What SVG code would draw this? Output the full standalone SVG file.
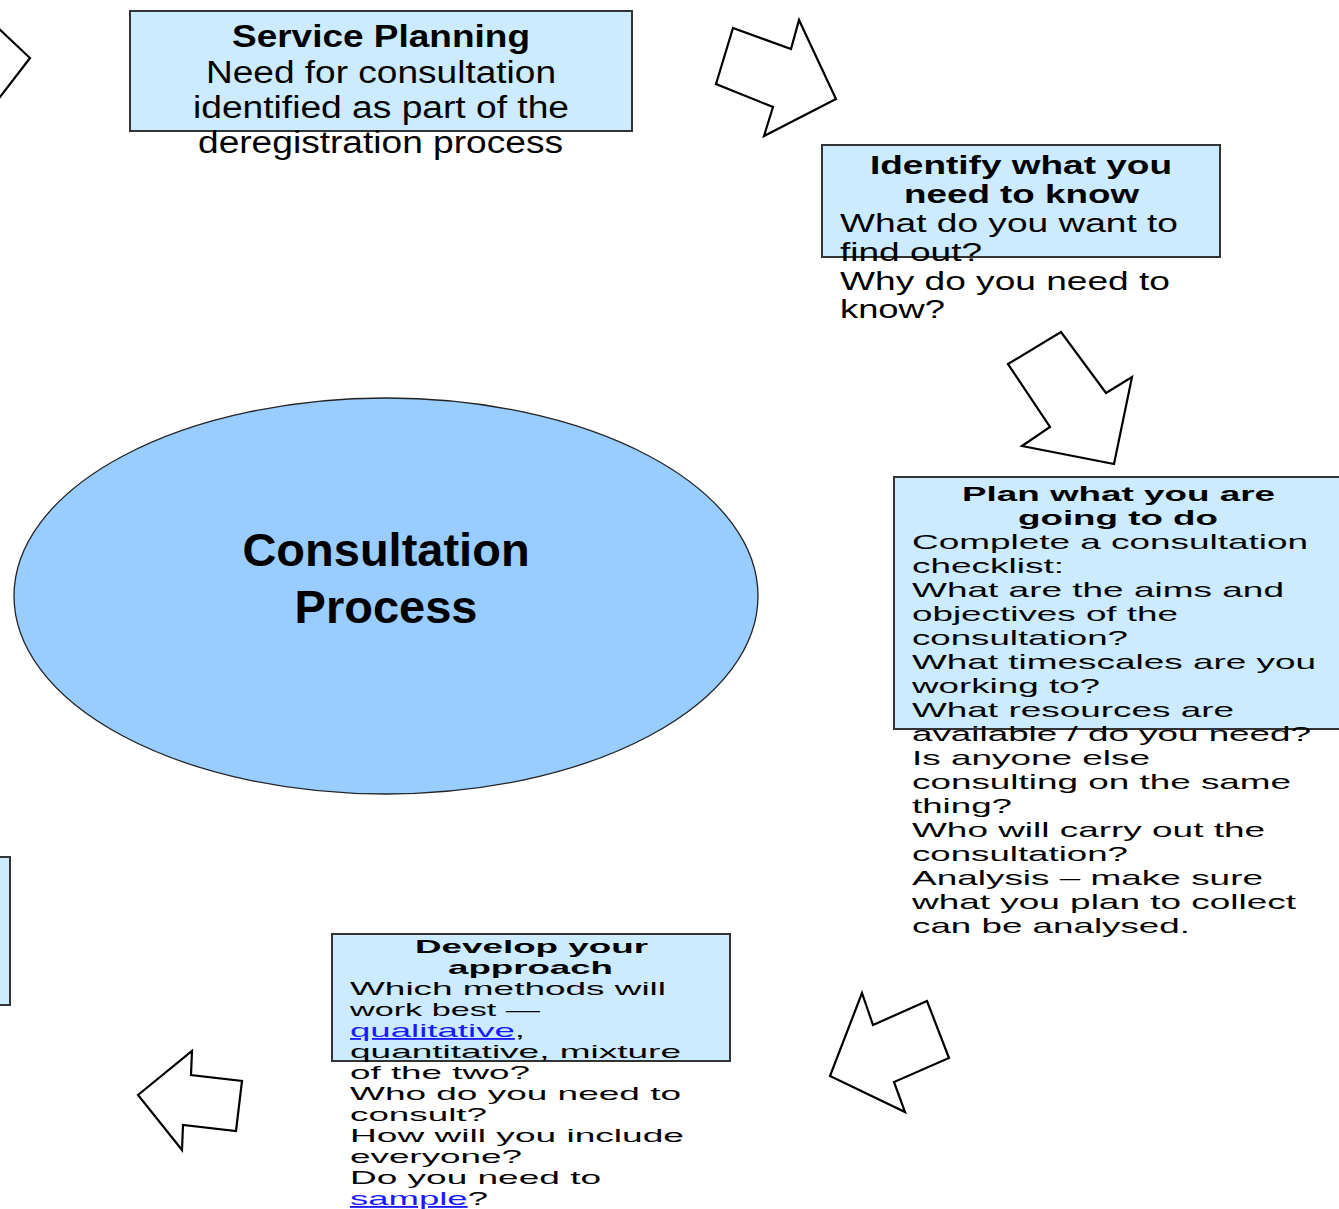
<svg xmlns="http://www.w3.org/2000/svg" width="1339" height="1209" viewBox="0 0 1339 1209">
<style>
  text { font-family: "Liberation Sans", Arial, sans-serif; fill: #000; }
  .box { fill: #CCEBFF; stroke: #333; stroke-width: 2; }
  .arrow { fill: #fff; stroke: #000; stroke-width: 2.2; stroke-linejoin: miter; }
  .b { font-weight: bold; }
  .sp { font-size: 31px; }
  .id { font-size: 26px; }
  .pl { font-size: 21px; }
  .dv { font-size: 18.5px; }
  .link { fill: #1a1aff; text-decoration: underline; }
</style>
<rect width="1339" height="1209" fill="#fff"/>

<g id="connectors">
  <polyline class="arrow" points="-20,11 30,58 -20,123"/>
  <polygon class="arrow" points="733,28 791,49 799,20 836,99 764,136 773,107 716,84"/>
  <polygon class="arrow" points="1008,364 1061,332 1106,393 1132,377 1114,464 1022,446 1050,427"/>
  <polygon class="arrow" points="862,993 873,1025 927,1001 949,1058 894,1082 905,1112 830,1076"/>
  <polygon class="arrow" points="138,1095 192,1051 191,1075 242,1081 236,1131 183,1125 182,1150"/>
</g>

<g id="left-partial-box">
  <rect class="box" x="-10" y="857" width="20" height="148"/>
</g>

<g id="service-planning">
  <rect class="box" x="130" y="11" width="502" height="120"/>
  <text class="sp b" x="232" y="47" textLength="298" lengthAdjust="spacingAndGlyphs">Service Planning</text>
  <text class="sp" x="206" y="83" textLength="350" lengthAdjust="spacingAndGlyphs">Need for consultation</text>
  <text class="sp" x="193" y="118" textLength="376" lengthAdjust="spacingAndGlyphs">identified as part of the</text>
  <text class="sp" x="198" y="153" textLength="365" lengthAdjust="spacingAndGlyphs">deregistration process</text>
</g>

<g id="identify">
  <rect class="box" x="822" y="145" width="398" height="112"/>
  <text class="id b" x="870" y="174" textLength="302" lengthAdjust="spacingAndGlyphs">Identify what you</text>
  <text class="id b" x="904" y="203" textLength="235" lengthAdjust="spacingAndGlyphs">need to know</text>
  <text class="id" x="840" y="232" textLength="338" lengthAdjust="spacingAndGlyphs">What do you want to</text>
  <text class="id" x="840" y="261" textLength="142" lengthAdjust="spacingAndGlyphs">find out?</text>
  <text class="id" x="840" y="290" textLength="330" lengthAdjust="spacingAndGlyphs">Why do you need to</text>
  <text class="id" x="840" y="318" textLength="105" lengthAdjust="spacingAndGlyphs">know?</text>
</g>

<g id="consultation-process">
  <ellipse cx="386" cy="596" rx="372" ry="198" fill="#99CCFF" stroke="#222" stroke-width="1.3"/>
  <text class="b" x="386" y="566" font-size="47" text-anchor="middle">Consultation</text>
  <text class="b" x="386" y="623" font-size="47" text-anchor="middle">Process</text>
</g>

<g id="plan">
  <rect class="box" x="894" y="477" width="460" height="252"/>
  <text class="pl b" x="962" y="501" textLength="313" lengthAdjust="spacingAndGlyphs">Plan what you are</text>
  <text class="pl b" x="1018" y="525" textLength="200" lengthAdjust="spacingAndGlyphs">going to do</text>
  <text class="pl" x="912" y="549" textLength="396" lengthAdjust="spacingAndGlyphs">Complete a consultation</text>
  <text class="pl" x="912" y="573" textLength="152" lengthAdjust="spacingAndGlyphs">checklist:</text>
  <text class="pl" x="912" y="597" textLength="372" lengthAdjust="spacingAndGlyphs">What are the aims and</text>
  <text class="pl" x="912" y="621" textLength="266" lengthAdjust="spacingAndGlyphs">objectives of the</text>
  <text class="pl" x="912" y="645" textLength="216" lengthAdjust="spacingAndGlyphs">consultation?</text>
  <text class="pl" x="912" y="669" textLength="404" lengthAdjust="spacingAndGlyphs">What timescales are you</text>
  <text class="pl" x="912" y="693" textLength="188" lengthAdjust="spacingAndGlyphs">working to?</text>
  <text class="pl" x="912" y="717" textLength="322" lengthAdjust="spacingAndGlyphs">What resources are</text>
  <text class="pl" x="912" y="741" textLength="399" lengthAdjust="spacingAndGlyphs">available / do you need?</text>
  <text class="pl" x="912" y="765" textLength="238" lengthAdjust="spacingAndGlyphs">Is anyone else</text>
  <text class="pl" x="912" y="789" textLength="379" lengthAdjust="spacingAndGlyphs">consulting on the same</text>
  <text class="pl" x="912" y="813" textLength="100" lengthAdjust="spacingAndGlyphs">thing?</text>
  <text class="pl" x="912" y="837" textLength="353" lengthAdjust="spacingAndGlyphs">Who will carry out the</text>
  <text class="pl" x="912" y="861" textLength="216" lengthAdjust="spacingAndGlyphs">consultation?</text>
  <text class="pl" x="912" y="885" textLength="351" lengthAdjust="spacingAndGlyphs">Analysis – make sure</text>
  <text class="pl" x="912" y="909" textLength="384" lengthAdjust="spacingAndGlyphs">what you plan to collect</text>
  <text class="pl" x="912" y="933" textLength="278" lengthAdjust="spacingAndGlyphs">can be analysed.</text>
</g>

<g id="develop">
  <rect class="box" x="332" y="934" width="398" height="127"/>
  <text class="dv b" x="415" y="953" textLength="233" lengthAdjust="spacingAndGlyphs">Develop your</text>
  <text class="dv b" x="448" y="974" textLength="165" lengthAdjust="spacingAndGlyphs">approach</text>
  <text class="dv" x="350" y="995" textLength="316" lengthAdjust="spacingAndGlyphs">Which methods will</text>
  <text class="dv" x="350" y="1016" textLength="190" lengthAdjust="spacingAndGlyphs">work best —</text>
  <text class="dv" x="350" y="1037" textLength="175" lengthAdjust="spacingAndGlyphs"><tspan class="link">qualitative</tspan>,</text>
  <text class="dv" x="350" y="1058" textLength="331" lengthAdjust="spacingAndGlyphs">quantitative, mixture</text>
  <text class="dv" x="350" y="1079" textLength="180" lengthAdjust="spacingAndGlyphs">of the two?</text>
  <text class="dv" x="350" y="1100" textLength="331" lengthAdjust="spacingAndGlyphs">Who do you need to</text>
  <text class="dv" x="350" y="1121" textLength="137" lengthAdjust="spacingAndGlyphs">consult?</text>
  <text class="dv" x="350" y="1142" textLength="334" lengthAdjust="spacingAndGlyphs">How will you include</text>
  <text class="dv" x="350" y="1163" textLength="172" lengthAdjust="spacingAndGlyphs">everyone?</text>
  <text class="dv" x="350" y="1184" textLength="251" lengthAdjust="spacingAndGlyphs">Do you need to</text>
  <text class="dv" x="350" y="1205" textLength="138" lengthAdjust="spacingAndGlyphs"><tspan class="link">sample</tspan>?</text>
</g>
</svg>
